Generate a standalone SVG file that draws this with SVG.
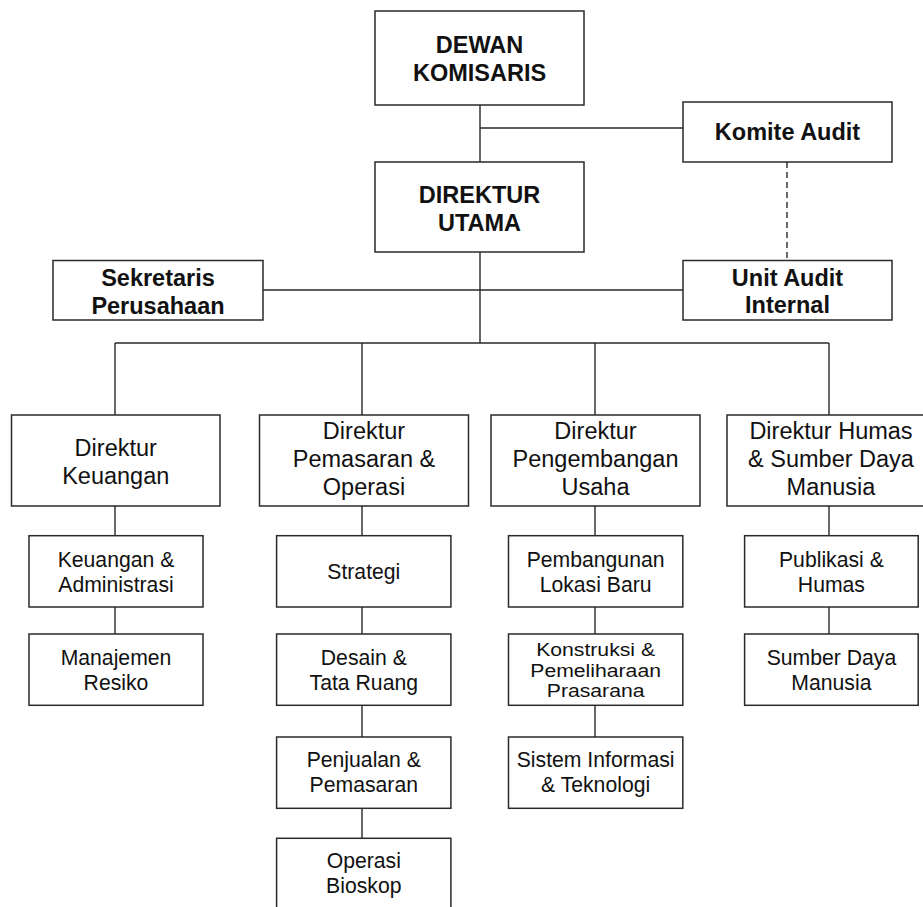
<svg xmlns="http://www.w3.org/2000/svg" width="923" height="907" viewBox="0 0 923 907">
<style>
.box{fill:#fff;stroke:#2a2a2a;stroke-width:1.5}
.ln{fill:none;stroke:#2a2a2a;stroke-width:1.4}
.dash{fill:none;stroke:#2a2a2a;stroke-width:1.4;stroke-dasharray:6 4}
.b{font-family:"Liberation Sans",Arial,sans-serif;font-weight:bold;font-size:23.5px;fill:#111;text-anchor:middle}
.r{font-family:"Liberation Sans",Arial,sans-serif;font-size:23.5px;fill:#111;text-anchor:middle}
.s{font-family:"Liberation Sans",Arial,sans-serif;font-size:21.2px;fill:#111;text-anchor:middle}
.t{font-family:"Liberation Sans",Arial,sans-serif;font-size:18.5px;fill:#111;text-anchor:middle}
</style>
<rect width="923" height="907" fill="#fff"/>
<g id="connectors">
<path class="ln" d="M480 105V162M480 128H683M480 252V343M263 290H683M115 343H829M115 343V415M362 343V415M595 343V415M829 343V415"/>
<path class="dash" d="M787 162V261"/>
<path class="ln" d="M115 506V536M115 607V634M362 506V536M362 607V634M362 705V737M362 808V838M595 506V536M595 607V634M595 705V737M829 506V536M829 607V634"/>
</g>
<g id="dewan-komisaris"><rect class="box" x="375" y="11" width="209" height="94"/><text class="b" x="479.5" y="53.3">DEWAN</text><text class="b" x="479.5" y="81">KOMISARIS</text></g>
<g id="komite-audit"><rect class="box" x="683" y="102" width="209" height="60"/><text class="b" x="787.5" y="140">Komite Audit</text></g>
<g id="direktur-utama"><rect class="box" x="375" y="162" width="209" height="90"/><text class="b" x="479.5" y="202.7">DIREKTUR</text><text class="b" x="479.5" y="230.7">UTAMA</text></g>
<g id="sekretaris"><rect class="box" x="53" y="260.5" width="210" height="59.5"/><text class="b" x="158" y="285.7">Sekretaris</text><text class="b" x="158" y="314">Perusahaan</text></g>
<g id="unit-audit"><rect class="box" x="683" y="260.5" width="209" height="59.5"/><text class="b" x="787.5" y="285.7">Unit Audit</text><text class="b" x="787.5" y="313.3">Internal</text></g>
<g id="dir-keuangan"><rect class="box" x="11.5" y="415" width="208.5" height="91"/><text class="r" x="115.75" y="455.7">Direktur</text><text class="r" x="115.75" y="484">Keuangan</text></g>
<g id="dir-pemasaran"><rect class="box" x="259.5" y="415" width="209" height="91"/><text class="r" x="364" y="438.5">Direktur</text><text class="r" x="364" y="466.8">Pemasaran &amp;</text><text class="r" x="364" y="495.1">Operasi</text></g>
<g id="dir-pengembangan"><rect class="box" x="491" y="415" width="209" height="91"/><text class="r" x="595.5" y="438.5">Direktur</text><text class="r" x="595.5" y="466.8">Pengembangan</text><text class="r" x="595.5" y="495.1">Usaha</text></g>
<g id="dir-humas"><rect class="box" x="727" y="415" width="209" height="91"/><text class="r" x="831" y="438.5">Direktur Humas</text><text class="r" x="831" y="466.8">&amp; Sumber Daya</text><text class="r" x="831" y="495.1">Manusia</text></g>
<g id="keuangan-admin"><rect class="box" x="29" y="535.7" width="174" height="71.3"/><text class="s" x="116" y="566.7">Keuangan &amp;</text><text class="s" x="116" y="591.7">Administrasi</text></g>
<g id="manajemen-resiko"><rect class="box" x="29" y="634" width="174" height="71.3"/><text class="s" x="116" y="665">Manajemen</text><text class="s" x="116" y="690">Resiko</text></g>
<g id="strategi"><rect class="box" x="276.6" y="535.7" width="174.3" height="71.3"/><text class="s" x="363.8" y="578.8">Strategi</text></g>
<g id="desain"><rect class="box" x="276.6" y="634" width="174.3" height="71.3"/><text class="s" x="363.8" y="665">Desain &amp;</text><text class="s" x="363.8" y="690">Tata Ruang</text></g>
<g id="penjualan"><rect class="box" x="276.6" y="737" width="174.3" height="71.3"/><text class="s" x="363.8" y="767.3">Penjualan &amp;</text><text class="s" x="363.8" y="791.7">Pemasaran</text></g>
<g id="operasi-bioskop"><rect class="box" x="276.6" y="838.3" width="174.3" height="80"/><text class="s" x="363.8" y="868.3">Operasi</text><text class="s" x="363.8" y="893.3">Bioskop</text></g>
<g id="pembangunan"><rect class="box" x="508.5" y="535.7" width="174.3" height="71.3"/><text class="s" x="595.6" y="566.7">Pembangunan</text><text class="s" x="595.6" y="591.7">Lokasi Baru</text></g>
<g id="konstruksi"><rect class="box" x="508.5" y="634" width="174.3" height="71.3"/><g transform="translate(595.6 0) scale(1.146 1)"><text class="t" x="0" y="656">Konstruksi &amp;</text><text class="t" x="0" y="676.7">Pemeliharaan</text><text class="t" x="0" y="697.3">Prasarana</text></g></g>
<g id="sistem-informasi"><rect class="box" x="508.5" y="737" width="174.3" height="71.3"/><text class="s" x="595.6" y="767.3">Sistem Informasi</text><text class="s" x="595.6" y="791.7">&amp; Teknologi</text></g>
<g id="publikasi"><rect class="box" x="744.6" y="535.7" width="173.6" height="71.3"/><text class="s" x="831.4" y="566.7">Publikasi &amp;</text><text class="s" x="831.4" y="591.7">Humas</text></g>
<g id="sdm"><rect class="box" x="744.6" y="634" width="173.6" height="71.3"/><text class="s" x="831.4" y="665">Sumber Daya</text><text class="s" x="831.4" y="690">Manusia</text></g>
</svg>
